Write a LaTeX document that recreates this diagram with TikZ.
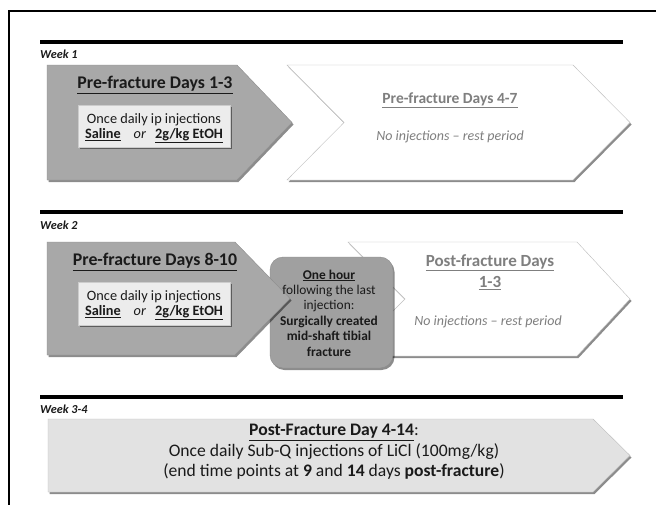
\documentclass[tikz,border=0pt]{standalone}
\usepackage{fontspec}
\setmainfont{Carlito}
\usetikzlibrary{shadows}
\definecolor{arrowgray}{HTML}{A8A8A8}
\definecolor{roundgray}{HTML}{A0A0A0}
\definecolor{boxgray}{HTML}{ECECEC}
\definecolor{longgray}{HTML}{E2E2E2}
\definecolor{paletext}{HTML}{7F7F7F}
\definecolor{darktext}{HTML}{1A1A1A}
\tikzset{
  softshadow/.style={drop shadow={shadow xshift=1.5pt, shadow yshift=-2pt, opacity=0.45, fill=black}},
  darkarrow/.style={fill=arrowgray, draw=arrowgray!85!black, line width=0.4pt, softshadow},
  whitechev/.style={fill=white, draw=black!25, line width=0.4pt, softshadow},
  innerbox/.style={fill=boxgray, draw=black!20, line width=0.4pt, softshadow},
  longarrow/.style={fill=longgray, draw=black!25, line width=0.4pt, softshadow},
  roundbox/.style={fill=roundgray, draw=black!45, line width=0.4pt, rounded corners=13pt, softshadow},
  weekbar/.style={line width=4.3pt, draw=black},
  weeklabel/.style={anchor=west, inner sep=0pt, font=\fontsize{12.2}{14}\selectfont\bfseries\itshape, text=darktext},
  titletext/.style={inner sep=0pt, font=\fontsize{17.8}{20}\selectfont\bfseries, text=darktext},
  paletitle/.style={inner sep=0pt, font=\fontsize{15.5}{18}\selectfont\bfseries, text=paletext},
  paleitalic/.style={inner sep=0pt, font=\fontsize{14}{16}\selectfont\itshape, text=paletext},
  boxtext/.style={inner sep=0pt, font=\fontsize{14.3}{16}\selectfont, text=darktext},
  roundtext/.style={inner sep=0pt, align=center, font=\fontsize{13.4}{15.4}\selectfont, text=darktext},
  longtext/.style={inner sep=0pt, align=center, font=\fontsize{17.6}{20.5}\selectfont, text=darktext}
}
\newcommand{\drugline}{\textbf{\underline{Saline}}\hspace{13pt}\textit{or}\hspace{9pt}\textbf{\underline{2g/kg EtOH}}}
\begin{document}
\begin{tikzpicture}[x=1pt,y=-1pt]
\useasboundingbox (0,0) rectangle (656,504);
\fill[white] (0,0) rectangle (656,504);
% outer frame (cut at right and bottom)
\draw[line width=1.4pt] (9,11) rectangle (670,520);

% week bars and labels
\coordinate (b1l) at (40,42); \coordinate (b1r) at (623,42);
\coordinate (b2l) at (40,212); \coordinate (b2r) at (623,212);
\coordinate (b3l) at (40,397); \coordinate (b3r) at (623,397);
\draw[weekbar] (b1l) -- (b1r);
\draw[weekbar] (b2l) -- (b2r);
\draw[weekbar] (b3l) -- (b3r);
\node[weeklabel] (w1) at (40,54) {Week 1};
\node[weeklabel] (w2) at (40,225) {Week 2};
\node[weeklabel] (w3) at (40,409) {Week 3-4};

% ---- Week 1 ----
\path[whitechev] (287,65) -- (573,65) -- (630,122.5) -- (573,180) -- (287,180) -- (344,122.5) -- cycle;
\path[darkarrow] (47,65) -- (237,65) -- (292,122.5) -- (237,180) -- (47,180) -- cycle;
\node[titletext] (t1) at (155,85) {\underline{Pre-fracture Days 1-3}};
\path[innerbox] (78,105) rectangle (230,147);
\node[boxtext] (i1a) at (154,120) {Once daily ip injections};
\node[boxtext] (i1b) at (154,136) {\drugline};
\node[paletitle] (t2) at (450,100) {\underline{Pre-fracture Days 4-7}};
\node[paleitalic] (n1) at (450,137) {No injections – rest period};

% ---- Week 2 ----
\path[whitechev] (348,242) -- (577,242) -- (630,299) -- (577,356) -- (348,356) -- (405,299) -- cycle;
\path[roundbox] (270,257) rectangle (393,368);
\path[darkarrow] (47,242) -- (235,242) -- (290,298.5) -- (235,355) -- (47,355) -- cycle;
\node[titletext] (t3) at (155,262) {\underline{Pre-fracture Days 8-10}};
\path[innerbox] (78,282) rectangle (230,325);
\node[boxtext] (i2a) at (154,297) {Once daily ip injections};
\node[boxtext] (i2b) at (154,313) {\drugline};
\node[roundtext] (r1) at (329,313) {\textbf{\underline{One hour}}\\following the last\\injection:\\\textbf{Surgically created}\\\textbf{mid-shaft tibial}\\\textbf{fracture}};
\node[paletitle, align=center, font=\fontsize{17}{21}\selectfont\bfseries] (t4) at (490,272) {\underline{Post-fracture Days}\\\underline{1-3}};
\node[paleitalic] (n2) at (488,322) {No injections – rest period};

% ---- Week 3-4 ----
\path[longarrow] (48,419) -- (593,419) -- (630,455.5) -- (593,492) -- (48,492) -- cycle;
\node[longtext] (l1) at (334,452) {\textbf{\underline{Post-Fracture Day 4-14}}:\\Once daily Sub-Q injections of LiCl (100mg/kg)\\(end time points at \textbf{9} and \textbf{14} days \textbf{post-fracture})};
\end{tikzpicture}
\end{document}
